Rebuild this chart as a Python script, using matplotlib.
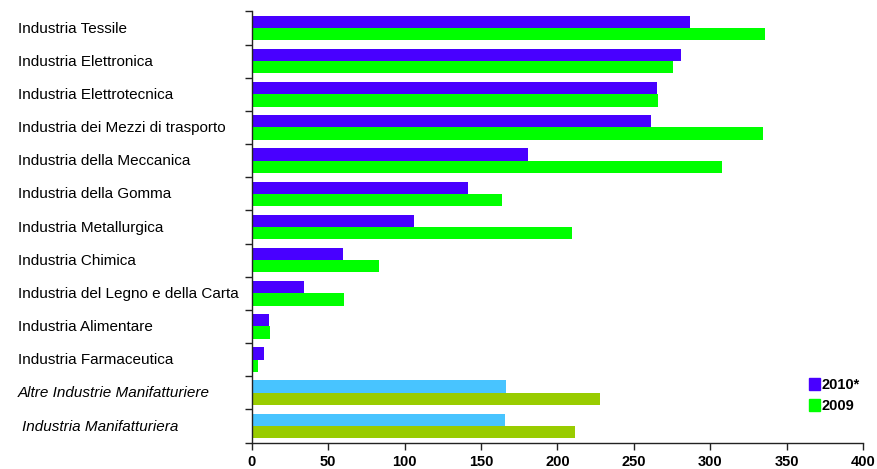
import matplotlib
matplotlib.use("Agg")
import matplotlib.pyplot as plt
import matplotlib.transforms as mtransforms
from matplotlib.patches import Patch

categories = [
    "Industria Tessile",
    "Industria Elettronica",
    "Industria Elettrotecnica",
    "Industria dei Mezzi di trasporto",
    "Industria della Meccanica",
    "Industria della Gomma",
    "Industria Metallurgica",
    "Industria Chimica",
    "Industria del Legno e della Carta",
    "Industria Alimentare",
    "Industria Farmaceutica",
    "Altre Industrie Manifatturiere",
    "Industria Manifatturiera",
]
values_2010 = [287, 281, 265, 261, 181, 141.5, 106.5, 60, 34, 11.3, 8.3, 166.5, 165.7]
values_2009 = [336, 276, 266, 334.5, 308, 163.5, 209.5, 83, 60.7, 12, 3.9, 228, 211.5]
series_labels = ["2010*", "2009"]
xticks = [0, 50, 100, 150, 200, 250, 300, 350, 400]

plt.rcParams['font.family'] = ['Liberation Sans', 'DejaVu Sans']

c2010 = "#4800FF"
c2009 = "#00FF00"
c2010_tot = "#48C4FF"
c2009_tot = "#99CC00"
n_special = 2

fig = plt.figure(figsize=(8.77, 4.69), dpi=100)
ax = fig.add_axes([251.7/877, 1-442.5/469, (863-251.7)/877, (442.5-11.4)/469])

h = 0.37
n = len(categories)
for i, (v10, v09) in enumerate(zip(values_2010, values_2009)):
    special = i >= n - n_special
    ax.barh(i - h/2, v10, height=h, color=c2010_tot if special else c2010,
            edgecolor='none')
    ax.barh(i + h/2, v09, height=h, color=c2009_tot if special else c2009,
            edgecolor='none')

ax.set_ylim(n - 0.5, -0.5)
ax.set_xlim(0, 400)
ax.set_xticks(xticks)
ax.set_xticklabels([str(t) for t in xticks], fontsize=10.5, fontweight='bold')
ax.set_yticks([i - 0.5 for i in range(n + 1)])
ax.set_yticklabels([])
ax.tick_params(axis='both', direction='out', length=5, width=1, color='#222222')
ax.tick_params(axis='x', pad=4)
for s in ['top', 'right']:
    ax.spines[s].set_visible(False)
for s in ['left', 'bottom']:
    ax.spines[s].set_color('#222222')
    ax.spines[s].set_linewidth(1)

trans = mtransforms.blended_transform_factory(fig.transFigure, ax.transData)
for i, lab in enumerate(categories):
    special = i >= n - n_special
    xoff = 18/877
    if i == n - 1:
        xoff = 22/877
    ax.text(xoff, i + 0.02, lab, transform=trans, ha='left', va='center',
            fontsize=11, fontstyle='italic' if special else 'normal',
            color='#000000')

handles = [Patch(color=c2010), Patch(color=c2009)]
leg = fig.legend(handles, series_labels, loc='upper left',
                 bbox_to_anchor=(802/877, 1-371/469), frameon=False,
                 handlelength=0.7, handleheight=0.9, handletextpad=0.15,
                 labelspacing=0.45, borderpad=0, prop={'size': 10.5, 'weight': 'bold'})

fig.savefig("out.png", dpi=100)
